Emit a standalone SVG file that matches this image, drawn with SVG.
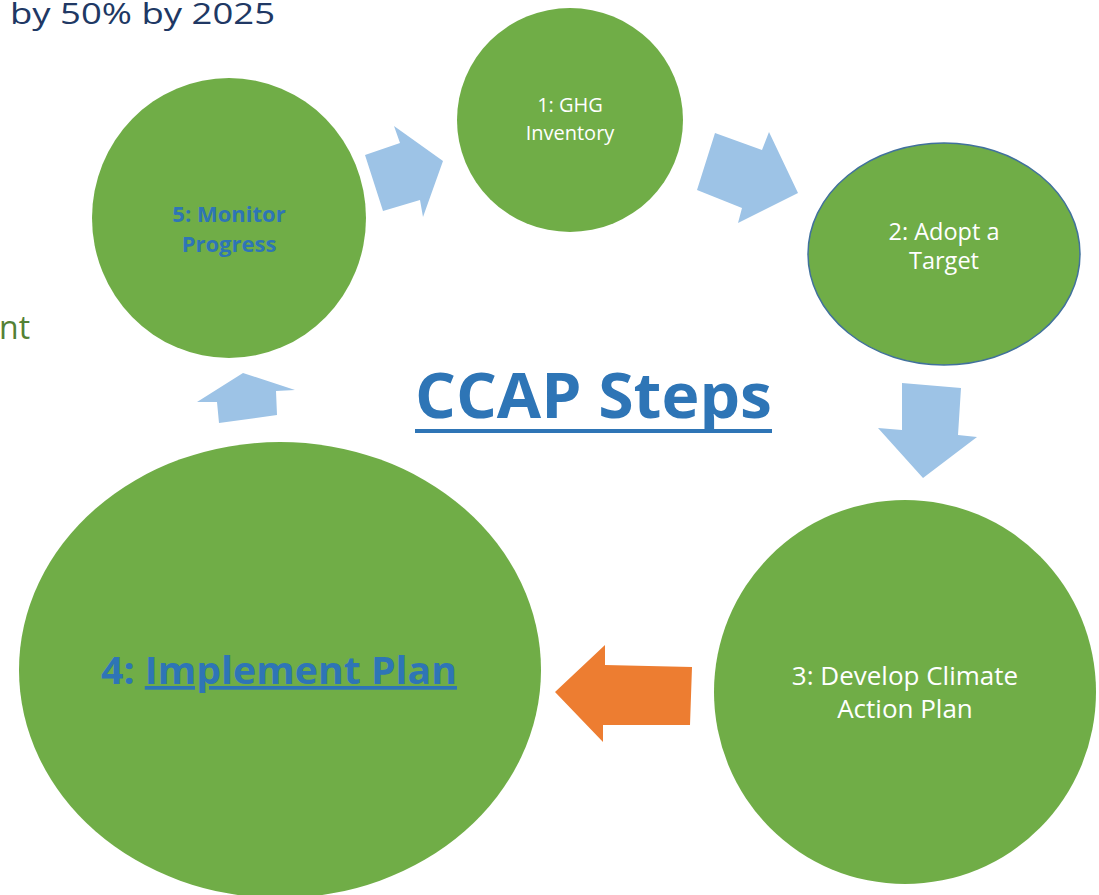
<svg xmlns="http://www.w3.org/2000/svg" width="1099" height="895" viewBox="0 0 1099 895">
<style>
.node{fill:#70ad47}
.arr{fill:#9dc3e6}
.w{fill:#ffffff;font-family:"Open Sans","Liberation Sans",sans-serif;text-anchor:middle}
.b{fill:#2e75b6;font-family:"Open Sans","Liberation Sans",sans-serif;font-weight:bold}
</style>
<rect width="1099" height="895" fill="#ffffff"/>
<text x="10" y="24" font-family="Open Sans, Liberation Sans, sans-serif" font-size="30" fill="#203864" textLength="265" lengthAdjust="spacingAndGlyphs">by 50% by 2025</text>
<text x="-1" y="339" font-family="Open Sans, Liberation Sans, sans-serif" font-size="32" fill="#538135">nt</text>
<g id="connectors">
<polygon class="arr" points="365,155 400,143 394,126 443,161 423,217 420,200 383,211"/>
<polygon class="arr" points="715,133 762,150 769,132 798,193 738,223 742,208 697,190"/>
<polygon class="arr" points="902,383 961,388 958,435 977,437 923,478 878,428 902,430"/>
<polygon fill="#ed7d31" points="555,692 605,645 605,665 692,667 690,725 603,725 603,742"/>
<polygon class="arr" points="243,373 295,390 276,391 277,415 219,423 217,402 197,402"/>
</g>
<g id="n1">
<ellipse class="node" cx="570" cy="120" rx="113" ry="112"/>
<text class="w" x="570" y="112" font-size="20">1: GHG</text>
<text class="w" x="570" y="140" font-size="20">Inventory</text>
</g>
<g id="n2">
<ellipse class="node" cx="944" cy="254" rx="136" ry="111" stroke="#41719c" stroke-width="1.5"/>
<text class="w" x="944" y="240" font-size="23.5">2: Adopt a</text>
<text class="w" x="944" y="269" font-size="23.5">Target</text>
</g>
<g id="n3">
<ellipse class="node" cx="905" cy="692" rx="191" ry="192"/>
<text class="w" x="905" y="685" font-size="26">3: Develop Climate</text>
<text class="w" x="905" y="718" font-size="26">Action Plan</text>
</g>
<g id="n4">
<ellipse class="node" cx="280" cy="670" rx="261" ry="228"/>
<text class="b" x="101" y="684" font-size="37" textLength="356" lengthAdjust="spacingAndGlyphs">4: <tspan text-decoration="underline">Implement Plan</tspan></text>
</g>
<g id="n5">
<ellipse class="node" cx="229" cy="218" rx="137" ry="140"/>
<text class="b" x="229" y="222" font-size="22" text-anchor="middle">5: Monitor</text>
<text class="b" x="229" y="252" font-size="22" text-anchor="middle">Progress</text>
</g>
<g id="title">
<text class="b" x="415" y="418" font-size="62" textLength="357" lengthAdjust="spacingAndGlyphs">CCAP Steps</text>
<rect x="415" y="429" width="357" height="4" fill="#2e75b6"/>
</g>
</svg>
